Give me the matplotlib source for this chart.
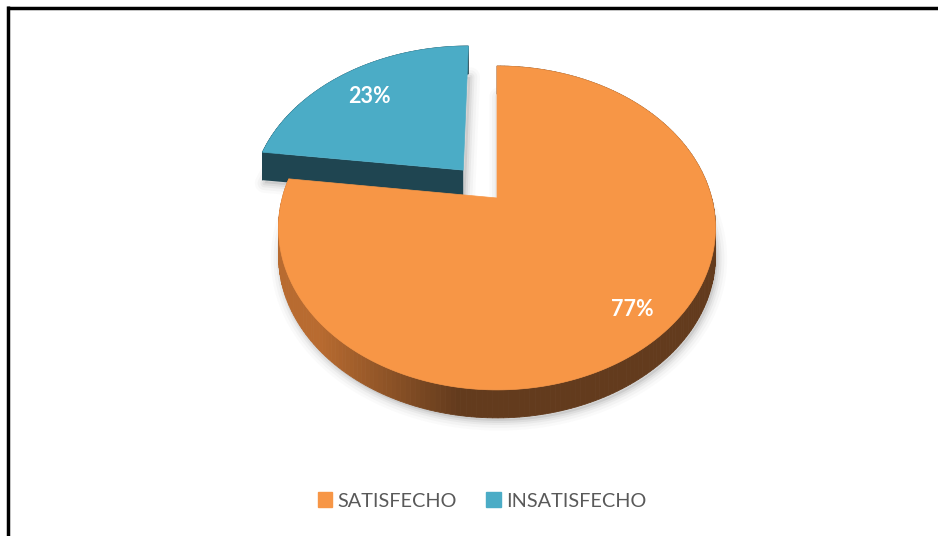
import numpy as np
import matplotlib
matplotlib.use("Agg")
import matplotlib.pyplot as plt
from matplotlib.patches import Patch
from matplotlib.colors import to_rgb

# data
categories = ["SATISFECHO", "INSATISFECHO"]
values = [77, 23]
labels = ["77%", "23%"]
explode = [0.0, 0.246]

top_colors = ["#F79646", "#4BACC6"]
side_dark = ["#633B1D", "#1F4551"]
side_light = ["#B86B30", "#1F4551"]
label_radius = [0.84, 0.74]

# look of the 3D pie (pixels)
CX, CY = 497, 198
A, B = 214.7, 156.4
K = 0.185
DEPTH = 28
FONT = "Lato"


def proj(u, v):
    w = 1 + K * v
    return CX + A * u / w, CY - B * v / w


def lerp_color(c1, c2, t):
    c1 = np.array(to_rgb(c1))
    c2 = np.array(to_rgb(c2))
    return tuple(c1 + (c2 - c1) * t)


fig = plt.figure(figsize=(9.38, 5.36), dpi=100)
ax = fig.add_axes([0, 0, 1, 1])
ax.set_xlim(0, 938)
ax.set_ylim(536, 0)
ax.axis("off")

fracs = np.array(values) / sum(values)
starts = np.concatenate([[0], np.cumsum(fracs)[:-1]]) * 2 * np.pi
ends = np.cumsum(fracs) * 2 * np.pi

slices = []
for i in range(len(values)):
    mid = (starts[i] + ends[i]) / 2
    ou, ov = explode[i] * np.sin(mid), explode[i] * np.cos(mid)
    th = np.linspace(starts[i], ends[i], 240)
    rx, ry = proj(ou + np.sin(th), ov + np.cos(th))
    c0x, c0y = proj(ou, ov)
    slices.append((mid, ou, ov, th, rx, ry, c0x, c0y))

# soft shadow under both slices
for mid, ou, ov, th, rx, ry, c0x, c0y in slices:
    sx = np.concatenate([[c0x], rx, [c0x]]) + 2
    sy = np.concatenate([[c0y], ry, [c0y]]) + DEPTH + 3
    for lw, al in [(14, 0.025), (10, 0.035), (6, 0.05), (3, 0.07)]:
        ax.plot(sx, sy, color="#404040", lw=lw, alpha=al, zorder=0,
                solid_joinstyle="round", solid_capstyle="round")
    ax.fill(sx, sy, color="#404040", alpha=0.1, lw=0, zorder=0)

# draw back slice (blue) first, then the front one
for i in [1, 0]:
    mid, ou, ov, th, rx, ry, c0x, c0y = slices[i]

    # outer wall, shaded left to right
    for j in range(len(th) - 1):
        qx = [rx[j], rx[j + 1], rx[j + 1], rx[j]]
        qy = [ry[j], ry[j + 1], ry[j + 1] + DEPTH, ry[j] + DEPTH]
        t = np.clip((qx[0] - 320) / 140, 0, 1)
        col = lerp_color(side_light[i], side_dark[i], t)
        ax.fill(qx, qy, color=col, lw=0.6, ec=col, zorder=1)

    # radial face at the end angle (faces the viewer for the blue slice)
    if i == 1:
        fx = [c0x, rx[0], rx[0], c0x]
        fy = [c0y, ry[0], ry[0] + DEPTH, c0y + DEPTH]
        ax.fill(fx, fy, color=side_dark[i], lw=0, zorder=1)

    # top face
    px = np.concatenate([[c0x], rx])
    py = np.concatenate([[c0y], ry])
    ax.fill(px, py, color=top_colors[i], lw=0.5, ec=top_colors[i], zorder=1)

    # value label
    s = explode[i] + label_radius[i]
    lx, ly = proj(s * np.sin(mid), s * np.cos(mid))
    ax.text(lx - 4 * i, ly, labels[i], color="white", fontsize=15.5,
            fontweight="bold", fontstyle="normal", family=FONT,
            ha="center", va="center", zorder=3)

handles = [Patch(color=c) for c in top_colors]
leg = ax.legend(handles, categories, loc="center", ncol=2, frameon=False,
                bbox_to_anchor=(482 / 938, 1 - 501 / 536),
                prop={"family": FONT, "size": 14.3, "style": "normal"},
                handlelength=0.72, handleheight=0.72, handletextpad=0.25,
                columnspacing=1.5)
for txt in leg.get_texts():
    txt.set_color("#595959")

# frame (only top and left edges show in the crop)
ax.plot([7, 938], [7.5, 7.5], color="black", lw=2.5, solid_capstyle="butt")
ax.plot([8, 8], [6.3, 536], color="black", lw=2.5, solid_capstyle="butt")

fig.savefig("out.png", dpi=100)
